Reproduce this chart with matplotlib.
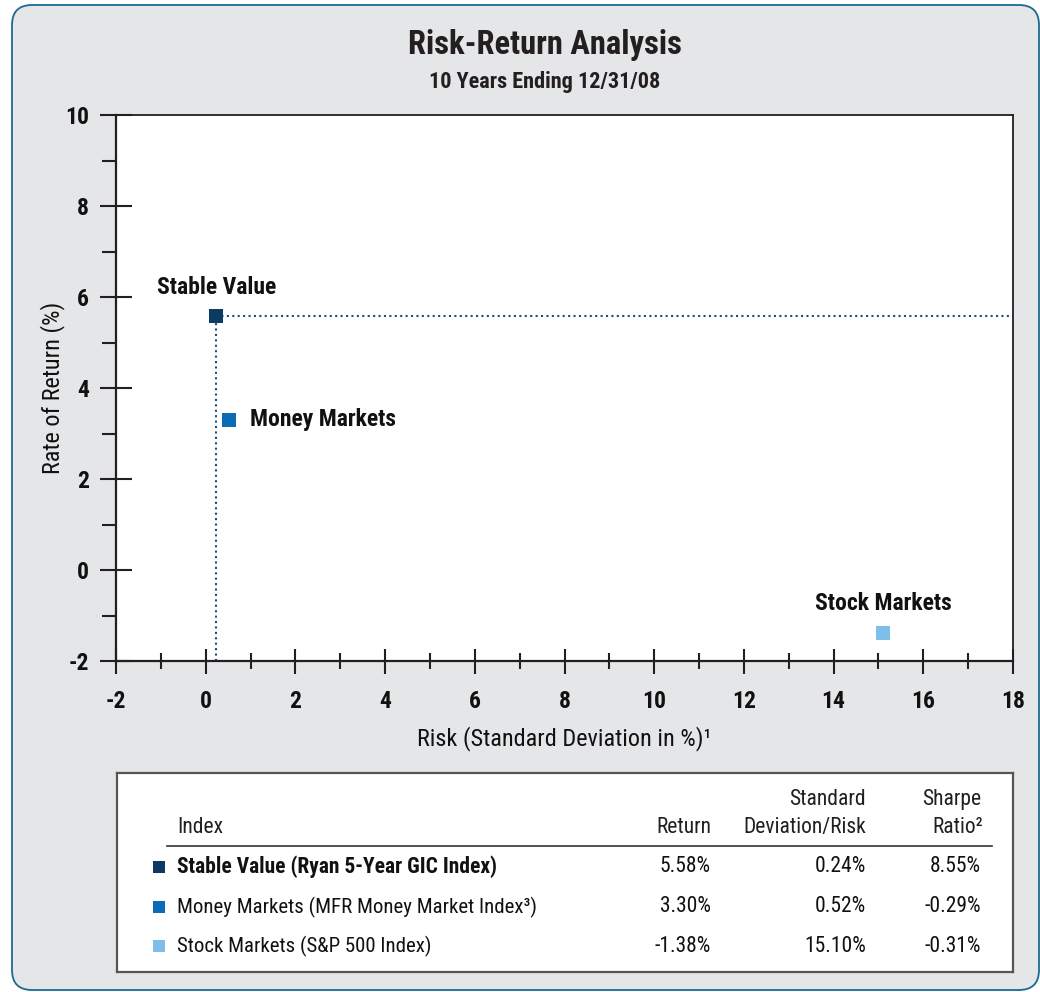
import matplotlib
matplotlib.use("Agg")
import matplotlib.pyplot as plt
from matplotlib import font_manager
from matplotlib.patches import FancyBboxPatch

installed = {f.name for f in font_manager.fontManager.ttflist}
FAMILY = next((f for f in ["Liberation Sans Narrow", "Roboto Condensed", "DejaVu Sans"]
               if f in installed), "DejaVu Sans")
plt.rcParams["font.family"] = [FAMILY, "DejaVu Sans"]
plt.rcParams["axes.unicode_minus"] = False

# ---- data ----
short_names = ["Stable Value", "Money Markets", "Stock Markets"]
index_names = ["Stable Value (Ryan 5-Year GIC Index)",
               "Money Markets (MFR Money Market Index\u00b3)",
               "Stock Markets (S&P 500 Index)"]
returns = [5.58, 3.30, -1.38]
risks = [0.24, 0.52, 15.10]
sharpe = [8.55, -0.29, -0.31]
colors = ["#0b3a63", "#0a6cb4", "#7dbfe9"]
x_ticks = list(range(-2, 19, 2))
y_ticks = list(range(-2, 11, 2))

W, H = 1040, 992
fig = plt.figure(figsize=(W / 100, H / 100), dpi=100, facecolor="white")

# rounded grey panel behind everything
panel = FancyBboxPatch((0.12, 0.02), 10.27, 9.85,
                       boxstyle="round,pad=0,rounding_size=0.2",
                       transform=fig.dpi_scale_trans,
                       facecolor="#e5e6e8", edgecolor="#1b6a92", linewidth=1.3,
                       zorder=-10)
fig.add_artist(panel)


def fx(px):
    return px / W


def fy(py):
    return 1 - py / H


# ---- scatter chart ----
ax = fig.add_axes([fx(116), fy(661), fx(1013) - fx(116), fy(115) - fy(661)])
ax.set_xlim(-2, 18)
ax.set_ylim(-2, 10)
ax.set_facecolor("white")
for s in ax.spines.values():
    s.set_color("#231f20")
    s.set_linewidth(1.6)
ax.spines["top"].set_linewidth(1.3)
ax.spines["right"].set_linewidth(1.3)

ax.set_xticks(x_ticks)
ax.set_yticks(y_ticks)
ax.set_xticks(range(-1, 18, 2), minor=True)
ax.set_yticks(range(-1, 10, 2), minor=True)
ax.tick_params(axis="x", which="major", direction="inout", length=18, width=1.5,
               color="#231f20", pad=12, labelsize=17)
ax.tick_params(axis="x", which="minor", direction="inout", length=12, width=1.5,
               color="#231f20")
ax.tick_params(axis="y", which="major", direction="inout", length=23, width=1.5,
               color="#231f20", pad=8, labelsize=17)
ax.tick_params(axis="y", which="minor", direction="out", length=10, width=1.5,
               color="#231f20")
for lab in ax.get_xticklabels() + ax.get_yticklabels():
    lab.set_fontweight("bold")
    lab.set_color("#111111")

ax.set_xlabel("Risk (Standard Deviation in %)\u00b9", fontsize=17.5, labelpad=9, color="#111111")
ax.set_ylabel("Rate of Return (%)", fontsize=17.5, labelpad=0, color="#111111")

# guide lines from the stable value point
ax.plot([risks[0], risks[0]], [ax.get_ylim()[0], returns[0]], linestyle=(0, (1, 1.6)),
        color="#1d4f7c", linewidth=1.5, zorder=2, clip_on=False)
ax.plot([risks[0], ax.get_xlim()[1]], [returns[0], returns[0]], linestyle=(0, (1, 1.6)),
        color="#1d4f7c", linewidth=1.5, zorder=2, clip_on=False)

for r, ret, c in zip(risks, returns, colors):
    ax.plot(r, ret, marker="s", markersize=10.5, color=c, markeredgewidth=0,
            linestyle="none", zorder=3)

label_offsets = [(-59, 29, "left"), (21, 0, "left"), (0, 29, "center")]
for name, r, ret, (dx, dy, ha) in zip(short_names, risks, returns, label_offsets):
    ax.annotate(name, (r, ret), xytext=(dx, dy), textcoords="offset pixels",
                ha=ha, va="center", fontsize=17, fontweight="bold", color="#111111")

# ---- titles ----
fig.text(fx(545), fy(45), "Risk-Return Analysis", ha="center", va="center",
         fontsize=23.5, fontweight="bold", color="#231f20")
fig.text(fx(545), fy(82), "10 Years Ending 12/31/08", ha="center", va="center",
         fontsize=16, fontweight="bold", color="#231f20")

# ---- summary table ----
tax = fig.add_axes([fx(117), fy(972), fx(1013) - fx(117), fy(773) - fy(972)])
tax.set_xlim(117, 1013)
tax.set_ylim(972, 773)
tax.set_facecolor("white")
tax.set_xticks([])
tax.set_yticks([])
for s in tax.spines.values():
    s.set_color("#555555")
    s.set_linewidth(1.6)

hdr_kw = dict(fontsize=15.5, color="#231f20", va="center")
tax.text(177, 828, "Index", ha="left", **hdr_kw)
tax.text(711, 828, "Return", ha="right", **hdr_kw)
tax.text(866, 800, "Standard", ha="right", **hdr_kw)
tax.text(866, 828, "Deviation/Risk", ha="right", **hdr_kw)
tax.text(981, 800, "Sharpe", ha="right", **hdr_kw)
tax.text(983, 828, "Ratio\u00b2", ha="right", **hdr_kw)
tax.plot([167, 992], [846, 846], color="#333333", linewidth=1.2)

row_y = [867, 907, 946]
for i, (nm, ret, rk, sh, c, y) in enumerate(zip(index_names, returns, risks, sharpe, colors, row_y)):
    weight = "bold" if i == 0 else "normal"
    size = 15.5 if i == 0 else 15
    tax.plot(159, y, marker="s", markersize=8.6, color=c, markeredgewidth=0)
    tax.text(177, y, nm, ha="left", va="center", fontsize=size, fontweight=weight, color="#111111")
    tax.text(711, y, f"{ret:.2f}%", ha="right", va="center", fontsize=15.5, color="#111111")
    tax.text(866, y, f"{rk:.2f}%", ha="right", va="center", fontsize=15.5, color="#111111")
    tax.text(981, y, f"{sh:.2f}%", ha="right", va="center", fontsize=15.5, color="#111111")

fig.savefig("out.png", dpi=100, facecolor=fig.get_facecolor())
